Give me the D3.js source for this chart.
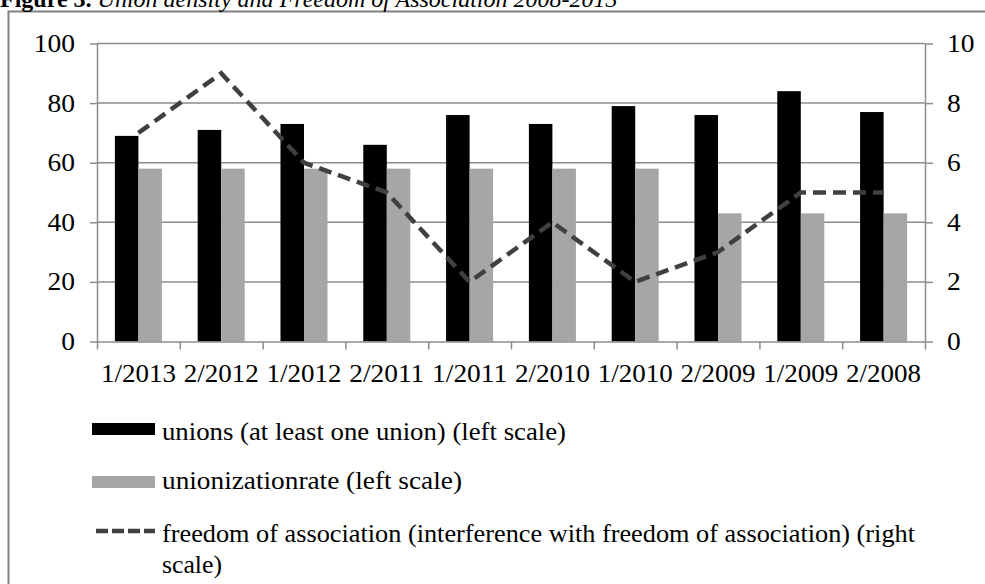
<!DOCTYPE html>
<html>
<head>
<meta charset="utf-8">
<script src="https://cdn.jsdelivr.net/npm/d3@7"></script>
<style>
  html, body { margin: 0; padding: 0; background: #fff; }
  svg text { font-family: "Liberation Serif", "Times New Roman", serif !important; }
</style>
</head>
<body>
<svg id="chart" width="985" height="584"></svg>
<script>
// ---- data ----
const categories = ["1/2013", "2/2012", "1/2012", "2/2011", "1/2011", "2/2010", "1/2010", "2/2009", "1/2009", "2/2008"];
const unions = [69, 71, 73, 66, 76, 73, 79, 76, 84, 77];
const unionizationRate = [58, 58, 58, 58, 58, 58, 58, 43, 43, 43];
const freedom = [7, 9, 6, 5, 2, 4, 2, 3, 5, 5];
const leftTicks = [0, 20, 40, 60, 80, 100];
const rightTicks = [0, 2, 4, 6, 8, 10];
const legendLabels = [
  "unions (at least one union) (left scale)",
  "unionizationrate (left scale)",
  "freedom of association (interference with freedom of association) (right",
  "scale)"
];

const svg = d3.select("#chart");
const STRETCH = 1.1;
const gridColor = "#8c8c8c";

function stretch(sel, f) {
  sel.each(function () {
    const w = this.getComputedTextLength();
    d3.select(this).attr("textLength", w * f).attr("lengthAdjust", "spacingAndGlyphs");
  });
}

// frame
svg.append("rect").attr("x", 0).attr("y", 0).attr("width", 985).attr("height", 584).attr("fill", "#fff");
svg.append("rect").attr("x", 8.5).attr("y", 11.5).attr("width", 1000).attr("height", 620)
  .attr("fill", "none").attr("stroke", "#808080").attr("stroke-width", 2);

// title (cut off at top, as in the source page)
const title = svg.append("text").attr("x", 0).attr("y", 7).attr("font-size", 24).attr("fill", "#000");
title.append("tspan").attr("font-weight", "bold").text("Figure 3.");
title.append("tspan").attr("font-style", "italic").text(" Union density and Freedom of Association 2008-2013");

// scales
const xL = 97, xR = 925, yBottom = 341.5, yTop = 43.5;
const x = d3.scaleBand().domain(categories).range([xL, xR]).paddingInner(0.432).paddingOuter(0.216);
const xSub = d3.scaleBand().domain(["unions", "rate"]).range([0, x.bandwidth()]);
const y = d3.scaleLinear().domain([0, 100]).range([yBottom, yTop]);
const yR = d3.scaleLinear().domain([0, 10]).range([yBottom, yTop]);
const xIdx = d3.scaleLinear().domain([0, categories.length]).range([xL, xR]);

// gridlines
svg.append("g").selectAll("line").data(leftTicks.filter(d => d > 0)).join("line")
  .attr("x1", xL).attr("x2", xR)
  .attr("y1", d => y(d)).attr("y2", d => y(d))
  .attr("stroke", gridColor).attr("stroke-width", 1.5);

// bars
const bars = svg.append("g");
bars.selectAll("rect.u").data(categories).join("rect").attr("class", "u")
  .attr("x", d => x(d) + xSub("unions")).attr("width", xSub.bandwidth())
  .attr("y", (d, i) => y(unions[i])).attr("height", (d, i) => y(0) - y(unions[i]))
  .attr("fill", "#000");
bars.selectAll("rect.r").data(categories).join("rect").attr("class", "r")
  .attr("x", d => x(d) + xSub("rate")).attr("width", xSub.bandwidth())
  .attr("y", (d, i) => y(unionizationRate[i])).attr("height", (d, i) => y(0) - y(unionizationRate[i]))
  .attr("fill", "#a6a6a6");

// axes
function styleAxis(g) {
  g.attr("font-family", null);
  g.select(".domain").attr("stroke", gridColor).attr("stroke-width", 1.5);
  g.selectAll(".tick line").attr("stroke", gridColor).attr("stroke-width", 1.5);
  g.selectAll("text").attr("font-size", 25).attr("fill", "#000");
}

const gLeft = svg.append("g").attr("transform", `translate(${xL},0)`)
  .call(d3.axisLeft(y).tickValues(leftTicks).tickSize(7).tickSizeOuter(0).tickPadding(15));
styleAxis(gLeft);
stretch(gLeft.selectAll("text"), STRETCH);

const gRight = svg.append("g").attr("transform", `translate(${xR},0)`)
  .call(d3.axisRight(yR).tickValues(rightTicks).tickSize(8).tickSizeOuter(0).tickPadding(14));
styleAxis(gRight);
stretch(gRight.selectAll("text"), STRETCH);

const gTicks = svg.append("g").attr("transform", `translate(0,${yBottom})`)
  .call(d3.axisBottom(xIdx).tickValues(d3.range(categories.length + 1)).tickFormat("").tickSize(8).tickSizeOuter(0));
styleAxis(gTicks);

const gBottom = svg.append("g").attr("transform", `translate(0,${yBottom})`)
  .call(d3.axisBottom(x).tickSize(0).tickSizeOuter(0));
gBottom.select(".domain").remove();
styleAxis(gBottom);
gBottom.selectAll("text").attr("dy", null).attr("y", 40);
gBottom.selectAll("text").attr("textLength", 75).attr("lengthAdjust", "spacingAndGlyphs");

// line
const line = d3.line()
  .x((d, i) => x(categories[i]) + x.bandwidth() / 2)
  .y(d => yR(d));
svg.append("path").datum(freedom).attr("d", line)
  .attr("fill", "none").attr("stroke", "#404040").attr("stroke-width", 4.5)
  .attr("stroke-dasharray", "13,7");

// legend
const lg = svg.append("g");
const swX = 92, swW = 63, txX = 162;
lg.append("rect").attr("x", swX).attr("y", 423).attr("width", swW).attr("height", 12).attr("fill", "#000");
lg.append("rect").attr("x", swX).attr("y", 476).attr("width", swW).attr("height", 12).attr("fill", "#a6a6a6");
lg.append("line").attr("x1", swX + 4).attr("x2", swX + swW).attr("y1", 531).attr("y2", 531)
  .attr("stroke", "#404040").attr("stroke-width", 4.5).attr("stroke-dasharray", "12,4");

const legendY = [440, 489, 542, 573];
const legendW = [404, 300, 753, 60];
lg.selectAll("text").data(legendLabels).join("text")
  .attr("x", txX).attr("y", (d, i) => legendY[i])
  .attr("font-size", 26).attr("fill", "#000")
  .attr("textLength", (d, i) => legendW[i]).attr("lengthAdjust", "spacingAndGlyphs")
  .text(d => d);
</script>
</body>
</html>
